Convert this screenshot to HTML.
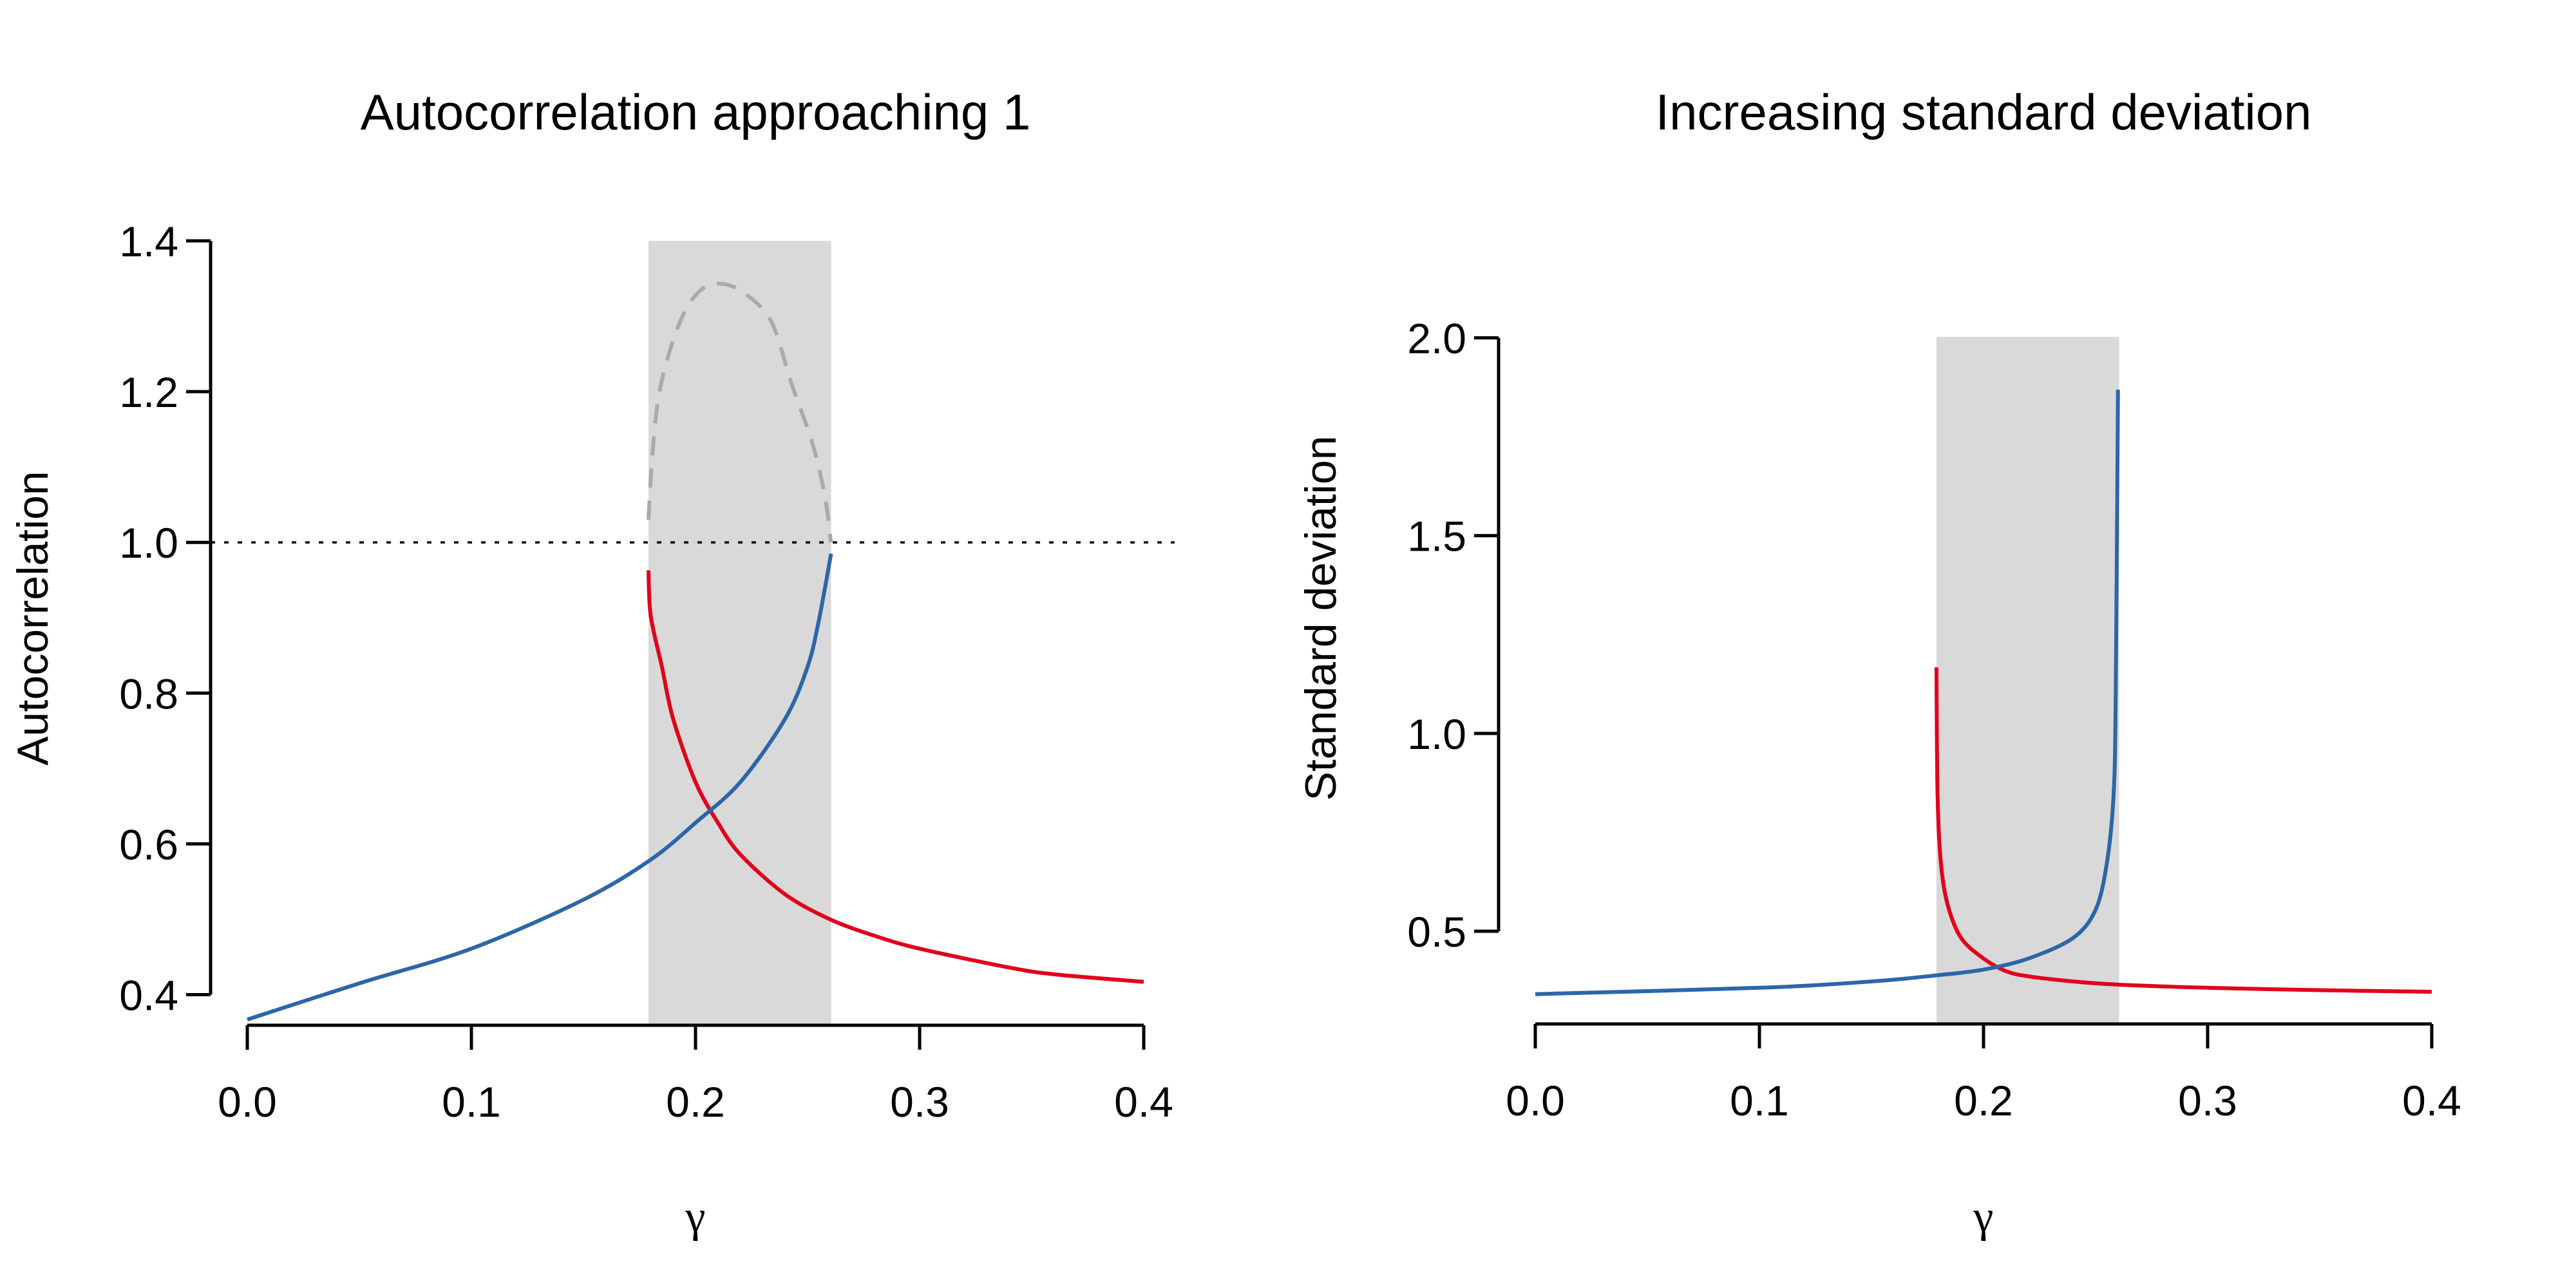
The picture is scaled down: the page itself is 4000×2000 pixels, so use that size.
<!DOCTYPE html>
<html><head><meta charset="utf-8"><style>
body{margin:0;background:#fff}
svg{display:block;font-family:"Liberation Sans",Arial,sans-serif}
</style></head><body>
<svg id="c" width="4000" height="2000" viewBox="0 0 4000 2000">
<rect width="4000" height="2000" fill="#fff"/>
</svg>
<script>
const xTicks=[0,0.1,0.2,0.3,0.4];
const xTickLabels=["0.0","0.1","0.2","0.3","0.4"];
const shadeRange=[0.179,0.2605];
// left panel
const acTicks=[0.4,0.6,0.8,1.0,1.2,1.4];
const acTickLabels=["0.4","0.6","0.8","1.0","1.2","1.4"];
const acBlueX=[0,0.05,0.1,0.15,0.18,0.2,0.22,0.24,0.25,0.255,0.2605];
const acBlueY=[0.367,0.415,0.461,0.526,0.579,0.628,0.682,0.766,0.835,0.896,0.985];
const acRedX=[0.179,0.18,0.185,0.19,0.2,0.21,0.22,0.24,0.26,0.28,0.3,0.34,0.36,0.4];
const acRedY=[0.963,0.903,0.835,0.766,0.682,0.628,0.586,0.533,0.5,0.478,0.461,0.436,0.427,0.417];
const acGrayX=[0.179,0.181,0.1845,0.193,0.202,0.212,0.2226,0.234,0.243,0.252,0.2578,0.2604];
const acGrayY=[1.03,1.125,1.209,1.292,1.334,1.343,1.329,1.292,1.209,1.133,1.06,1.0];
// right panel
const sdTicks=[0.5,1.0,1.5,2.0];
const sdTickLabels=["0.5","1.0","1.5","2.0"];
const sdBlueX=[0,0.1,0.15,0.18,0.2,0.22,0.24,0.25,0.255,0.258,0.259,0.26];
const sdBlueY=[0.341,0.357,0.373,0.389,0.403,0.431,0.483,0.554,0.671,0.84,1.098,1.869];
const sdRedX=[0.179,0.1795,0.181,0.184,0.19,0.2,0.21,0.22,0.24,0.26,0.3,0.35,0.4];
const sdRedY=[1.167,0.84,0.671,0.567,0.483,0.431,0.399,0.386,0.373,0.365,0.357,0.351,0.347];

const svg=document.getElementById('c');
const NS='http://www.w3.org/2000/svg';
function mk(tag,attrs,parent){const e=document.createElementNS(NS,tag);for(const k in attrs)e.setAttribute(k,attrs[k]);(parent||svg).appendChild(e);return e;}
function smooth(pts){
  let d='M'+pts[0][0].toFixed(1)+','+pts[0][1].toFixed(1);
  for(let i=0;i<pts.length-1;i++){
    const p0=pts[Math.max(0,i-1)],p1=pts[i],p2=pts[i+1],p3=pts[Math.min(pts.length-1,i+2)];
    const t=0.16;
    const c1=[p1[0]+(p2[0]-p0[0])*t,p1[1]+(p2[1]-p0[1])*t];
    const c2=[p2[0]-(p3[0]-p1[0])*t,p2[1]-(p3[1]-p1[1])*t];
    d+='C'+c1.map(v=>v.toFixed(1)).join(',')+' '+c2.map(v=>v.toFixed(1)).join(',')+' '+p2.map(v=>v.toFixed(1)).join(',');
  }
  return d;
}

function panel(o){
  const g=mk('g',{});
  
  
  const sx=v=>o.x0+(v-0)/(0.4)*(o.x1-o.x0);
  const sy=v=>o.yb+(v-o.vb)/(o.vt-o.vb)*(o.yt-o.yb);
  const sh=mk('rect',{x:sx(shadeRange[0]),y:o.shadeTop,width:sx(shadeRange[1])-sx(shadeRange[0]),height:o.axisY-2-o.shadeTop,fill:'#d9d9d9'},g);
  
  
  if(o.ref){
    const r=mk('line',{x1:o.yAxisX,x2:1824,y1:sy(1),y2:sy(1),stroke:'#000','stroke-width':3.5,'stroke-dasharray':'7 14'},g);
    
    
  }
  const line=(xs,ys,col,name,dash)=>{
    const pts=xs.map((x,i)=>[sx(x),sy(ys[i])]);
    const p=mk('path',{d:smooth(pts),fill:'none',stroke:col,'stroke-width':6,'stroke-linejoin':'round'},g);
    if(dash)p.setAttribute('stroke-dasharray',dash);
    
    
  };
  if(o.gx)line(o.gx,o.gy,'#aaaaaa','unstable-branch-dashed','30 20');
  line(o.rx,o.ry,'#e2001a','red-branch');
  line(o.bx,o.by,'#2b66a8','blue-branch');
  const xa=mk('g',{},g);
  
  
  mk('line',{x1:sx(0),x2:sx(0.4),y1:o.axisY,y2:o.axisY,stroke:'#000','stroke-width':5},xa);
  xTicks.forEach((t,i)=>{
    mk('line',{x1:sx(t),x2:sx(t),y1:o.axisY,y2:o.axisY+38,stroke:'#000','stroke-width':5},xa);
    const tx=mk('text',{x:sx(t),y:o.axisY+142,'font-size':66,'text-anchor':'middle'},xa);
    tx.textContent=xTickLabels[i];
    
    
  });
  const ya=mk('g',{},g);
  
  
  mk('line',{x1:o.yAxisX,x2:o.yAxisX,y1:sy(o.yTicks[0]),y2:sy(o.yTicks[o.yTicks.length-1]),stroke:'#000','stroke-width':5},ya);
  o.yTicks.forEach((t,i)=>{
    mk('line',{x1:o.yAxisX-38,x2:o.yAxisX,y1:sy(t),y2:sy(t),stroke:'#000','stroke-width':5},ya);
    const tx=mk('text',{x:o.yAxisX-50,y:sy(t)+24,'font-size':66,'text-anchor':'end'},ya);
    tx.textContent=o.yLabels[i];
    
    
  });
  const t=mk('text',{x:(o.x0+o.x1)/2,y:201,'font-size':78,'text-anchor':'middle'},g);
  t.textContent=o.title;
  
  
  const xt=mk('text',{x:(o.x0+o.x1)/2,y:1912,'font-size':70,'text-anchor':'middle',
    'font-family':'"Liberation Serif","DejaVu Serif",serif'},g);
  xt.textContent='γ';
  
  
  const yt=mk('text',{x:0,y:0,'font-size':68,'text-anchor':'middle',transform:`translate(${o.ytX},${o.ytY}) rotate(-90)`},g);
  yt.textContent=o.ytitle;
  
  
}
panel({name:'autocorrelation-panel',x0:384,x1:1776,yAxisX:327,axisY:1592,shadeTop:374,
  vb:0.4,vt:1.4,yb:1544.5,yt:374,yTicks:acTicks,yLabels:acTickLabels,ref:true,
  bx:acBlueX,by:acBlueY,rx:acRedX,ry:acRedY,gx:acGrayX,gy:acGrayY,
  title:'Autocorrelation approaching 1',ytitle:'Autocorrelation',ytX:74,ytY:960});
panel({name:'standard-deviation-panel',x0:2384,x1:3776,yAxisX:2327,axisY:1590,shadeTop:523,
  vb:0.5,vt:2.0,yb:1446,yt:524.6,yTicks:sdTicks,yLabels:sdTickLabels,ref:false,
  bx:sdBlueX,by:sdBlueY,rx:sdRedX,ry:sdRedY,
  title:'Increasing standard deviation',ytitle:'Standard deviation',ytX:2074,ytY:960});
</script>
</body></html>
